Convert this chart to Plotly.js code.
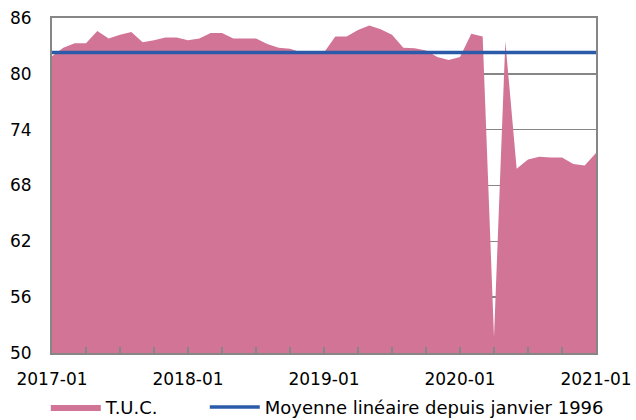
<!DOCTYPE html>
<html>
<head>
<meta charset="utf-8">
<script src="https://cdn.plot.ly/plotly-3.0.1.min.js"></script>
<style>html,body{margin:0;padding:0;background:#fff;}#chart{width:636px;height:420px;}</style>
</head>
<body>
<div id="chart"></div>
<script>
// Monthly index: 0 = 2017-01 ... 48 = 2021-01
const months = [];
for (let i = 0; i <= 48; i++) months.push(i);
const tucValues = [
  81.9, 82.8, 83.3, 83.3, 84.6, 83.8, 84.2, 84.5, 83.4, 83.6, 83.9, 83.9,
  83.6, 83.8, 84.4, 84.4, 83.8, 83.8, 83.8, 83.2, 82.8, 82.7, 82.3, 82.3,
  82.3, 84.0, 84.0, 84.7, 85.2, 84.8, 84.2, 82.8, 82.75, 82.5, 81.8, 81.5,
  81.8, 84.3, 84.0, 51.7, 83.5, 69.8, 70.8, 71.1, 71.0, 71.0, 70.3, 70.15,
  71.5
];
const moyenneX = [0, 48];
const moyenneY = [82.3, 82.3];
const tickPositions = [0, 12, 24, 36, 48];
const tickLabels = ['2017-01', '2018-01', '2019-01', '2020-01', '2021-01'];
const yTicks = [50, 56, 62, 68, 74, 80, 86];
const seriesNames = ['T.U.C.', 'Moyenne linéaire depuis janvier 1996'];

const traces = [
  {
    x: months, y: tucValues, name: seriesNames[0], type: 'scatter', mode: 'lines',
    fill: 'tozeroy', fillcolor: '#D17496', line: {width: 0, color: '#D17496'},
    hoverinfo: 'skip', legend: 'legend'
  },
  {
    x: moyenneX, y: moyenneY, name: seriesNames[1], type: 'scatter', mode: 'lines',
    line: {width: 3.5, color: '#2B5BA8'}, hoverinfo: 'skip', legend: 'legend2'
  }
];

const legendCommon = {
  orientation: 'h', xref: 'container', yref: 'container',
  xanchor: 'left', y: 0.03, yanchor: 'middle',
  font: {size: 18}, itemwidth: 50, bgcolor: 'rgba(0,0,0,0)'
};

const layout = {
  width: 636, height: 420,
  margin: {l: 52, r: 40, t: 18, b: 67},
  paper_bgcolor: '#fff', plot_bgcolor: '#fff',
  font: {family: '"DejaVu Sans", sans-serif', size: 17, color: '#000'},
  showlegend: true,
  legend: Object.assign({}, legendCommon, {x: 0.072}),
  legend2: Object.assign({}, legendCommon, {x: 0.322}),
  xaxis: {
    range: [0, 48], tickmode: 'array', tickvals: tickPositions, ticktext: tickLabels,
    showgrid: false, zeroline: false, showline: true, linecolor: '#868686', linewidth: 2,
    mirror: true, ticks: 'inside', ticklen: 6, tickwidth: 1.5, tickcolor: '#868686',
    ticklabelstandoff: 10,
    minor: {dtick: 3, tick0: 0, ticks: 'inside', ticklen: 6, tickwidth: 1.5, tickcolor: '#868686', showgrid: false}
  },
  yaxis: {
    range: [50, 86], tickmode: 'array', tickvals: yTicks,
    showgrid: true, gridcolor: '#868686', gridwidth: 1.5, zeroline: false,
    showline: true, linecolor: '#868686', linewidth: 2, mirror: true,
    ticks: '', ticklabelstandoff: 15
  }
};

Plotly.newPlot('chart', traces, layout, {displayModeBar: false, staticPlot: true});
</script>
</body>
</html>
